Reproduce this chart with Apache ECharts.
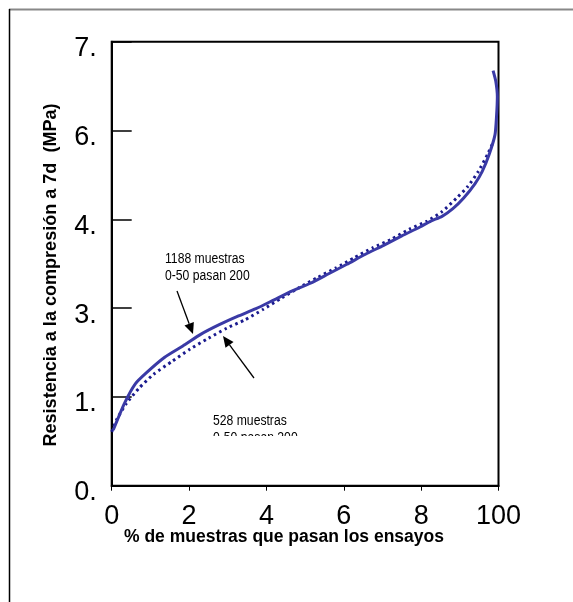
<!DOCTYPE html>
<html>
<head>
<meta charset="utf-8">
<script src="https://cdn.jsdelivr.net/npm/echarts@6/dist/echarts.min.js"></script>
<style>
html,body{margin:0;padding:0;background:#fff;}
#c{width:573px;height:602px;}
</style>
</head>
<body>
<div id="c"></div>
<script>
// % de muestras (x) and resistencia MPa (y)
var solidX = [0.4, 3.3, 6.1, 9.0, 13.7, 18.4, 23.1, 27.8, 32.5, 37.3, 42.0, 46.7, 51.4, 56.1, 60.8, 65.6, 70.3, 75.0, 79.7, 82.5, 85.4, 88.2, 91.0, 93.9, 95.8, 97.6, 99.1, 99.5, 99.7, 99.3, 98.6];
var solidY = [0.94, 1.39, 1.72, 1.91, 2.17, 2.36, 2.56, 2.72, 2.86, 2.99, 3.14, 3.29, 3.42, 3.58, 3.74, 3.91, 4.06, 4.22, 4.37, 4.47, 4.55, 4.68, 4.86, 5.10, 5.31, 5.60, 5.93, 6.25, 6.57, 6.83, 7.01];
var dottedX = [0, 1.4, 3.8, 7.1, 10.8, 15.6, 20.3, 25.0, 29.7, 34.4, 39.2, 43.9, 48.6, 53.3, 58.0, 62.7, 67.5, 72.2, 76.9, 81.6, 85.4, 89.2, 92.0, 94.8, 97.2, 98.6];
var dottedY = [0.91, 1.13, 1.39, 1.65, 1.88, 2.10, 2.31, 2.49, 2.66, 2.80, 2.98, 3.17, 3.35, 3.52, 3.68, 3.85, 4.02, 4.16, 4.33, 4.47, 4.63, 4.86, 5.05, 5.31, 5.60, 5.80];
var yTicks = [0, 1.5, 3.0, 4.5, 6.0, 7.5];
var xTicks = [0, 20, 40, 60, 80, 100];
var yTitle = 'Resistencia a la compresión a 7d  (MPa)';
var xTitle = '% de muestras que pasan los ensayos';
var note1 = ['1188 muestras', '0-50 pasan 200'];
var note2 = ['528 muestras', '0-50 pasan 200'];

function pairs(xs, ys){ return xs.map(function(x,i){return [x, ys[i]];}); }

function arrow(x1,y1,x2,y2){
  var a = Math.atan2(y2-y1, x2-x1), L = 11, W = 5;
  var bx = x2 - L*Math.cos(a), by = y2 - L*Math.sin(a);
  var px = -Math.sin(a), py = Math.cos(a);
  return [
    {type:'line', shape:{x1:x1,y1:y1,x2:bx,y2:by}, style:{stroke:'#000', lineWidth:1.3}, z:50},
    {type:'polygon', shape:{points:[[x2,y2],[bx+px*W,by+py*W],[bx-px*W,by-py*W]]}, style:{fill:'#000'}, z:50}
  ];
}

var chart = echarts.init(document.getElementById('c'), null, {renderer:'canvas'});
var noteFont = '"Liberation Sans",Arial,sans-serif';
var graphics = [
  {type:'line', shape:{x1:9,y1:9.5,x2:573,y2:9.5}, style:{stroke:'#888', lineWidth:2}},
  {type:'line', shape:{x1:9.5,y1:9,x2:9.5,y2:602}, style:{stroke:'#000', lineWidth:1.5}},
  {type:'text', x:51, y:275, rotation:Math.PI/2, scaleX:0.95, style:{text:yTitle, font:'bold 19px "Liberation Sans",Arial,sans-serif', fill:'#000', align:'center', verticalAlign:'middle'}},
  {type:'text', x:284, y:537, style:{text:xTitle, font:'bold 17.5px "Liberation Sans",Arial,sans-serif', fill:'#000', align:'center', verticalAlign:'middle'}},
  {type:'text', x:165, y:251, scaleX:0.87, style:{text:note1.join('\n'), font:'14px '+noteFont, fill:'#000', lineHeight:17, align:'left', verticalAlign:'top'}, z:50},
  {type:'text', x:213, y:413, scaleX:0.87, style:{text:note2.join('\n'), font:'14px '+noteFont, fill:'#000', lineHeight:17, align:'left', verticalAlign:'top'}, z:50},
  {type:'rect', shape:{x:205,y:436,width:130,height:16}, style:{fill:'#fff'}, z:60}
].concat(arrow(177,291,193,334)).concat(arrow(254,378,223,336));

chart.setOption({
  animation:false,
  backgroundColor:'#fff',
  grid:{left:111.7, right:74.5, top:41.7, bottom:116.3, show:true, borderColor:'#000', borderWidth:2, backgroundColor:'transparent'},
  xAxis:{type:'value', min:xTicks[0], max:xTicks[xTicks.length-1], interval:20,
    axisLine:{show:true, lineStyle:{color:'#000', width:2}},
    axisTick:{show:true, inside:false, length:5, lineStyle:{color:'#000', width:1}},
    splitLine:{show:false},
    axisLabel:{margin:17, color:'#000', fontSize:27, fontFamily:'"Liberation Sans",Arial,sans-serif',
      formatter:function(v){ return v===100 ? '100' : String(v).slice(0,1); }}
  },
  yAxis:{type:'value', min:yTicks[0], max:yTicks[yTicks.length-1], interval:1.5,
    axisLine:{show:true, lineStyle:{color:'#000', width:2}},
    axisTick:{show:true, inside:true, length:20, lineStyle:{color:'#000', width:1.5}},
    splitLine:{show:false},
    axisLabel:{margin:15, color:'#000', fontSize:27, fontFamily:'"Liberation Sans",Arial,sans-serif', verticalAlign:'top', lineHeight:14,
      formatter:function(v){ return v.toFixed(1).slice(0,2); }}
  },
  series:[
    {type:'line', name:'1188 muestras', data:pairs(solidX, solidY), showSymbol:false, smooth:0.2, clip:false,
      lineStyle:{color:'#3a3aa6', width:3}, z:5},
    {type:'line', name:'528 muestras', data:pairs(dottedX, dottedY), showSymbol:false, smooth:0.2, clip:false,
      lineStyle:{color:'#1a1a8e', width:3, type:[2.5,3.5]}, z:4}
  ],
  graphic:graphics
});
</script>
</body>
</html>
